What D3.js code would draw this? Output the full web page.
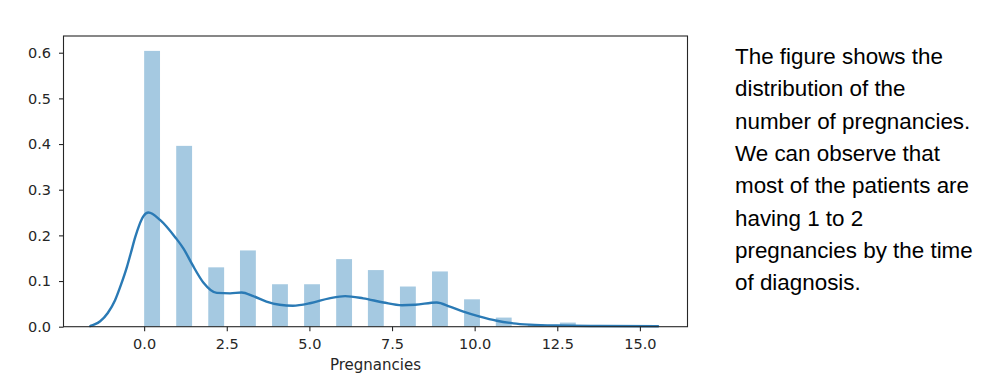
<!DOCTYPE html>
<html>
<head>
<meta charset="utf-8">
<script src="https://cdn.jsdelivr.net/npm/d3@7"></script>
<style>
  body { margin: 0; background: #fff; }
</style>
</head>
<body>
<div id="chart"></div>
<script>
const colorpel = { "bar": "#1f77b4", "kde": "#2a7ab5", "axis": "#262626" }

let width = 1000, height = 389;
const plot = { left: 63.5, right: 687.5, top: 36, bottom: 326.7 };

// histogram bins (left edge, density)
const binLeft = [0, 0.97, 1.94, 2.9, 3.87, 4.84, 5.81, 6.77, 7.74, 8.71, 9.68, 10.64, 11.61, 12.58];
const binDensity = [0.604, 0.396, 0.130, 0.167, 0.093, 0.093, 0.148, 0.124, 0.088, 0.121, 0.060, 0.020, 0.005, 0.009];
const binWidth = 0.48;

// kde curve
const kdeX = [-1.63, -1.5, -1.33, -1.1, -0.88, -0.7, -0.52, -0.4, -0.27, -0.15, -0.02, 0.13, 0.48, 0.95, 1.2, 1.45, 1.79, 2.2, 2.6, 2.95, 3.3, 3.7, 4.1, 4.5, 5.05, 5.6, 6.08, 6.63, 7.24, 7.8, 8.2, 8.85, 9.25, 9.66, 10.16, 10.67, 11.17, 11.67, 12.48, 13.79, 15.55];
const kdeY = [0.0015, 0.005, 0.012, 0.03, 0.058, 0.092, 0.131, 0.162, 0.196, 0.222, 0.242, 0.25, 0.234, 0.195, 0.17, 0.137, 0.097, 0.074, 0.073, 0.075, 0.067, 0.055, 0.048, 0.046, 0.052, 0.062, 0.067, 0.062, 0.053, 0.047, 0.048, 0.053, 0.044, 0.033, 0.022, 0.013, 0.0074, 0.0045, 0.0025, 0.0015, 0.001];

const xTicks = [0, 2.5, 5, 7.5, 10, 12.5, 15];
const yTicks = [0, 0.1, 0.2, 0.3, 0.4, 0.5, 0.6];
const xLabel = "Pregnancies";

const noteLines = [
    "The figure shows the",
    "distribution of the",
    "number of pregnancies.",
    "We can observe that",
    "most of the patients are",
    "having 1 to 2",
    "pregnancies by the time",
    "of diagnosis."
];

let x = d3.scaleLinear().domain([-2.44, 16.44]).range([plot.left, plot.right]);
let y = d3.scaleLinear().domain([0, 0.6366]).range([plot.bottom, plot.top]);

const styleAxis = g => {
    g.select(".domain").remove();
    g.selectAll(".tick line").attr("stroke", colorpel.axis).attr("stroke-width", 1.1);
    g.selectAll(".tick text")
        .attr("fill", colorpel.axis)
        .style("font-family", "DejaVu Sans, sans-serif")
        .style("font-size", "14.5px");
}

const chart = () => {
    let svg = d3.select("#chart")
        .append("svg")
        .attr("width", width)
        .attr("height", height);

    let g_bars = svg.append("g").attr("class", "bars"),
        g_kde = svg.append("g").attr("class", "kde"),
        g_axis = svg.append("g").attr("class", "axes"),
        text = svg.append("g").attr("class", "note");

    let bins = binLeft.map((d, i) => ({ x0: d, x1: d + binWidth, v: binDensity[i] }));

    g_bars.selectAll("rect").data(bins)
        .enter().append("rect")
        .attr("x", d => x(d.x0))
        .attr("y", d => y(d.v))
        .attr("width", d => x(d.x1) - x(d.x0))
        .attr("height", d => y(0) - y(d.v))
        .attr("fill", colorpel.bar)
        .style("opacity", 0.4);

    let pts = kdeX.map((d, i) => [d, kdeY[i]]);
    let lineg = d3.line().x(d => x(d[0])).y(d => y(d[1])).curve(d3.curveMonotoneX);

    g_kde.append("path")
        .attr("d", lineg(pts))
        .attr("fill", "none")
        .attr("stroke", colorpel.kde)
        .attr("stroke-width", 2.4)
        .attr("stroke-linejoin", "round")
        .attr("stroke-linecap", "round");

    // axes
    g_axis.append("g")
        .attr("transform", `translate(0,${plot.bottom})`)
        .call(d3.axisBottom(x).tickValues(xTicks).tickFormat(d3.format(".1f")).tickSize(4.5).tickPadding(8))
        .call(styleAxis);

    g_axis.append("g")
        .attr("transform", `translate(${plot.left},0)`)
        .call(d3.axisLeft(y).tickValues(yTicks).tickFormat(d3.format(".1f")).tickSize(4.5).tickPadding(8))
        .call(styleAxis);

    g_axis.append("rect")
        .attr("x", plot.left).attr("y", plot.top)
        .attr("width", plot.right - plot.left)
        .attr("height", plot.bottom - plot.top)
        .attr("fill", "none")
        .attr("stroke", colorpel.axis)
        .attr("stroke-width", 1.1);

    g_axis.append("text")
        .attr("x", (plot.left + plot.right) / 2)
        .attr("y", 370)
        .attr("text-anchor", "middle")
        .style("font-family", "DejaVu Sans, sans-serif")
        .style("font-size", "15px")
        .attr("fill", colorpel.axis)
        .text(xLabel);

    // side note
    text.selectAll("text").data(noteLines)
        .enter().append("text")
        .attr("x", 735)
        .attr("y", (d, i) => 64 + i * 32.3)
        .style("font-family", "Liberation Sans, Arial, sans-serif")
        .style("font-size", "22.4px")
        .attr("fill", "#000")
        .text(d => d);

    return svg.node();
}

chart()
</script>
</body>
</html>
